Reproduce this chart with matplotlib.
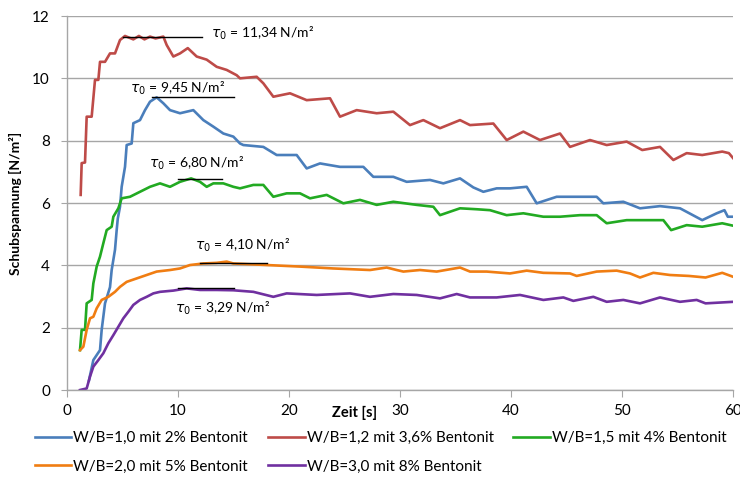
import matplotlib.pyplot as plt
from matplotlib.lines import Line2D
import matplotlib.transforms as mtransforms

plt.rcParams['font.family'] = ['Lato', 'DejaVu Sans']

# W/B=1,0 mit 2% Bentonit
t_blue = [2.0, 2.4, 3.0, 3.15, 3.45, 3.9, 4.05, 4.35, 4.5, 4.6, 4.8, 4.95, 5.25, 5.4, 5.85,
          6.0, 6.6, 7.05, 7.5, 8.1, 8.7, 9.3, 10.2, 11.4, 12.3, 13.2, 14.1, 15.0, 15.6,
          15.9, 17.7, 18.9, 20.7, 21.6, 22.8, 24.6, 26.7, 27.6, 29.4, 30.6, 32.7, 33.9,
          35.4, 36.6, 37.5, 38.7, 39.9, 41.4, 42.3, 44.1, 45.9, 47.7, 48.3, 50.1, 51.6,
          53.4, 55.2, 57.2, 58.5, 59.2, 59.5, 60.0]
v_blue = [0.3, 0.96, 1.28, 1.93, 2.78, 3.3, 3.85, 4.5, 5.13, 5.5, 5.88, 6.52, 7.16, 7.86, 7.91,
          8.56, 8.66, 8.98, 9.25, 9.39, 9.2, 8.98, 8.88, 8.98, 8.66, 8.45, 8.23, 8.13, 7.91,
          7.86, 7.8, 7.54, 7.54, 7.11, 7.27, 7.16, 7.16, 6.84, 6.84, 6.68, 6.74, 6.63,
          6.79, 6.5, 6.36, 6.47, 6.47, 6.52, 5.99, 6.2, 6.2, 6.2, 5.99, 6.04, 5.83,
          5.9, 5.83, 5.45, 5.67, 5.77, 5.56, 5.56]

# W/B=1,2 mit 3,6% Bentonit
t_red = [1.26, 1.35, 1.65, 1.8, 2.25, 2.55, 2.85, 3.0, 3.45, 3.9, 4.35, 4.8, 5.25, 6.0, 6.5,
         7.0, 7.5, 8.0, 8.7, 9.0, 9.6, 10.2, 10.9, 11.7, 12.6, 13.5, 14.4, 15.3, 15.6,
         17.1, 17.7, 18.6, 20.1, 21.6, 23.7, 24.6, 26.1, 27.9, 29.4, 30.9, 32.1, 33.6,
         35.4, 36.3, 38.4, 39.6, 41.1, 42.6, 44.4, 45.3, 47.1, 48.6, 50.4, 51.8, 53.4,
         54.6, 55.8, 57.2, 59.0, 59.6, 60.0]
v_red = [6.26, 7.28, 7.3, 8.77, 8.77, 9.95, 9.95, 10.53, 10.53, 10.8, 10.8, 11.23, 11.36, 11.25,
         11.36, 11.25, 11.34, 11.28, 11.34, 11.07, 10.7, 10.8, 10.97, 10.7, 10.6, 10.37, 10.27,
         10.1, 10.0, 10.05, 9.84, 9.41, 9.52, 9.3, 9.36, 8.77, 8.98, 8.88, 8.93, 8.5, 8.66,
         8.4, 8.66, 8.5, 8.55, 8.02, 8.29, 8.02, 8.23, 7.8, 8.02, 7.86, 7.97, 7.7, 7.8,
         7.38, 7.6, 7.54, 7.65, 7.6, 7.43]

# W/B=1,5 mit 4% Bentonit
t_green = [1.2, 1.35, 1.65, 1.8, 2.25, 2.4, 2.7, 3.0, 3.3, 3.6, 4.05, 4.2, 4.65, 4.95, 5.7,
           6.6, 7.5, 8.4, 9.3, 10.2, 11.2, 12.0, 12.6, 13.2, 14.1, 15.0, 15.6, 16.8, 17.7,
           18.6, 19.8, 21.0, 21.9, 23.4, 24.9, 26.4, 27.9, 29.4, 31.5, 33.0, 33.6, 35.4,
           36.9, 38.1, 39.6, 41.1, 42.9, 44.4, 46.2, 47.7, 48.6, 50.4, 52.5, 53.7, 54.4,
           55.8, 57.2, 59.0, 60.0]
v_green = [1.28, 1.93, 1.93, 2.78, 2.89, 3.42, 3.96, 4.28, 4.71, 5.13, 5.24, 5.56, 5.83, 6.15, 6.2,
           6.36, 6.52, 6.63, 6.52, 6.68, 6.79, 6.68, 6.52, 6.63, 6.63, 6.52, 6.47, 6.58, 6.58,
           6.2, 6.31, 6.31, 6.15, 6.26, 5.99, 6.1, 5.94, 6.04, 5.94, 5.88, 5.61, 5.83,
           5.8, 5.77, 5.61, 5.67, 5.56, 5.56, 5.61, 5.61, 5.35, 5.45, 5.45, 5.45, 5.13,
           5.29, 5.24, 5.35, 5.27]

# W/B=2,0 mit 5% Bentonit
t_orange = [1.2, 1.5, 1.8, 2.1, 2.4, 2.7, 3.15, 3.75, 4.35, 4.8, 5.4, 6.3, 7.2, 8.1, 9.3, 10.2,
            11.1, 12.3, 13.5, 14.4, 15.0, 18.0, 21.0, 24.0, 27.3, 28.8, 29.7, 30.3, 31.8,
            33.3, 35.4, 36.3, 37.8, 39.9, 41.4, 42.9, 45.3, 45.9, 47.7, 49.5, 50.7, 51.6,
            52.8, 54.3, 56.0, 57.5, 59.0, 60.0]
v_orange = [1.28, 1.39, 1.93, 2.3, 2.35, 2.62, 2.89, 2.99, 3.15, 3.31, 3.47, 3.58, 3.69, 3.8, 3.85,
            3.9, 4.01, 4.06, 4.08, 4.12, 4.06, 4.01, 3.96, 3.9, 3.85, 3.93, 3.85, 3.8, 3.85,
            3.8, 3.93, 3.8, 3.8, 3.74, 3.83, 3.76, 3.74, 3.66, 3.8, 3.83, 3.74, 3.61,
            3.76, 3.69, 3.66, 3.61, 3.76, 3.63]

# W/B=3,0 mit 8% Bentonit
t_purple = [1.2, 1.8, 2.1, 2.4, 2.85, 3.3, 3.75, 4.2, 4.65, 5.1, 5.55, 6.0, 6.6, 7.2, 7.8, 8.4,
            9.6, 10.8, 12.0, 13.5, 15.0, 16.8, 18.6, 19.8, 22.5, 25.5, 27.3, 29.4, 31.5,
            33.6, 35.1, 36.3, 38.7, 40.8, 42.9, 44.7, 45.6, 47.4, 48.6, 50.1, 51.6, 53.4,
            55.2, 56.7, 57.5, 60.0]
v_purple = [0.0, 0.05, 0.43, 0.75, 0.96, 1.18, 1.5, 1.76, 2.03, 2.3, 2.51, 2.73, 2.89, 2.99, 3.1, 3.15,
            3.19, 3.26, 3.21, 3.21, 3.2, 3.15, 2.99, 3.1, 3.05, 3.1, 2.99, 3.08, 3.05,
            2.94, 3.08, 2.97, 2.97, 3.05, 2.89, 2.97, 2.86, 2.99, 2.83, 2.89, 2.78, 2.97,
            2.83, 2.89, 2.78, 2.83]

labels = ["W/B=1,0 mit 2% Bentonit", "W/B=1,2 mit 3,6% Bentonit", "W/B=1,5 mit 4% Bentonit",
          "W/B=2,0 mit 5% Bentonit", "W/B=3,0 mit 8% Bentonit"]
colors = ["#4A7EBB", "#BE4B48", "#22AA22", "#F07D12", "#7030A0"]

# tau_0 markers: value, line start/end, text position
tau_vals = [11.34, 9.45, 6.80, 4.10, 3.29]
tau_line_y = [11.34, 9.41, 6.77, 4.08, 3.28]
tau_line_x = [(5.1, 12.2), (7.7, 15.05), (10.0, 14.0), (12.0, 18.0), (10.0, 15.05)]
tau_text_xy = [(13.0, 11.45), (5.7, 9.69), (7.4, 7.28), (11.55, 4.65), (9.75, 2.63)]

fig = plt.figure(figsize=(7.4, 4.88), dpi=100)
ax = fig.add_axes([0.0901, 0.2008, 0.9009, 0.7664])

series = [(t_blue, v_blue), (t_red, v_red), (t_green, v_green), (t_orange, v_orange), (t_purple, v_purple)]
handles = []
for (t, v), c, lab in zip(series, colors, labels):
    ax.plot(t, v, color=c, lw=1.9)
    handles.append(Line2D([], [], color=c, lw=1.9, label=lab))

for tv, ly, (x0, x1), (tx, ty) in zip(tau_vals, tau_line_y, tau_line_x, tau_text_xy):
    ax.plot([x0, x1], [ly, ly], color='black', lw=1.0)
    txt = f"{tv:.2f}".replace('.', ',')
    ax.text(tx, ty, r"$\tau_0$" + f" = {txt} N/m²", fontsize=10, va='center', ha='left')

ax.set_xlim(0, 60)
ax.set_ylim(0, 12)
ax.set_xticks(range(0, 61, 10))
ax.set_yticks(range(0, 13, 2))
ax.yaxis.grid(True, color='#A6A6A6', lw=1.0)
ax.set_axisbelow(True)
for s in ['top', 'right']:
    ax.spines[s].set_visible(False)
for s in ['left', 'bottom']:
    ax.spines[s].set_color('#A6A6A6')
    ax.spines[s].set_linewidth(1.0)
ax.tick_params(axis='x', length=5, color='#A6A6A6', labelsize=11, pad=5)
ax.tick_params(axis='y', length=4, color='#A6A6A6', labelsize=11, pad=8)

ax.set_ylabel("Schubspannung [N/m²]", fontsize=10, fontweight='bold')
ax.yaxis.set_label_coords(-0.067, 0.5)
trans = mtransforms.blended_transform_factory(ax.transData, ax.transAxes)
ax.text(25.9, -0.062, "Zeit [s]", transform=trans, fontsize=10.5, fontweight='bold',
        ha='center', va='center')

# legend in row order: reorder for matplotlib's column filling
order = [0, 3, 1, 4, 2]
fig.legend([handles[i] for i in order], [labels[i] for i in order],
           loc='upper left', bbox_to_anchor=(0.047, 0.117), ncol=3, frameon=False,
           fontsize=11, handlelength=2.4, handletextpad=0.13, columnspacing=1.3,
           labelspacing=0.95, borderaxespad=0, borderpad=0)

fig.savefig("out.png", dpi=100)
